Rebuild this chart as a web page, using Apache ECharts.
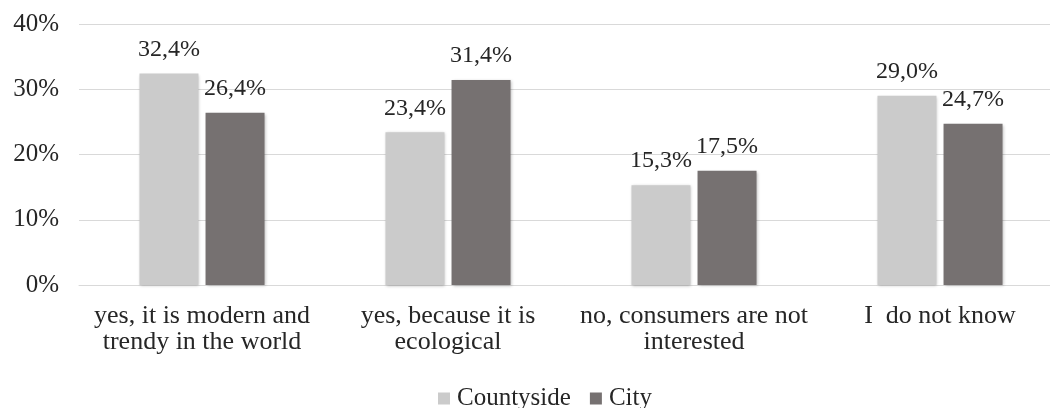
<!DOCTYPE html>
<html>
<head>
<meta charset="utf-8">
<script src="https://cdn.jsdelivr.net/npm/echarts@6/dist/echarts.min.js"></script>
<style>
  html, body { margin: 0; padding: 0; background: #ffffff; }
  #chart { width: 1050px; height: 408px; }
</style>
</head>
<body>
<div id="chart"></div>
<script>
// Survey answers by place of residence (share of respondents, %)
const categories = [
  'yes, it is modern and\ntrendy in the world',
  'yes, because it is\necological',
  'no, consumers are not\ninterested',
  'I  do not know'
];
const countyside = [32.4, 23.4, 15.3, 29.0];
const city = [26.4, 31.4, 17.5, 24.7];
const seriesNames = ['Countyside', 'City'];
const yTicks = { min: 0, max: 40, interval: 10 };

const FONT = '"Liberation Serif", "Times New Roman", serif';
const TEXT = '#262626';
const fmt = v => v.toFixed(1).replace('.', ',') + '%';

const chart = echarts.init(document.getElementById('chart'), null, { renderer: 'canvas' });

const labelStyle = {
  show: true,
  position: 'top',
  distance: 12,
  fontFamily: FONT,
  fontSize: 24,
  color: TEXT,
  formatter: p => fmt(p.value)
};

const barShadow = {
  shadowColor: 'rgba(0,0,0,0.25)',
  shadowBlur: 3,
  shadowOffsetX: 1,
  shadowOffsetY: 1
};

chart.setOption({
  animation: false,
  textStyle: { fontFamily: FONT },
  // plot area runs past the right edge of the canvas, so the gridlines reach it
  grid: {
    left: 79, width: 984, top: 24, bottom: 123,
    containLabel: false,
    outerBoundsMode: 'none'
  },
  legend: {
    top: 386,
    left: 438,
    padding: 0,
    itemWidth: 12,
    itemHeight: 12,
    itemGap: 19,
    icon: 'rect',
    textStyle: { fontFamily: FONT, fontSize: 25, color: TEXT, padding: [0, 0, 0, 2] },
    data: seriesNames
  },
  xAxis: {
    type: 'category',
    data: categories,
    axisLine: { show: true, lineStyle: { color: '#d9d9d9', width: 1 } },
    axisTick: { show: false },
    axisLabel: {
      fontFamily: FONT,
      fontSize: 26,
      color: TEXT,
      margin: 18,
      lineHeight: 26,
      interval: 0
    }
  },
  yAxis: {
    type: 'value',
    min: yTicks.min,
    max: yTicks.max,
    interval: yTicks.interval,
    axisLine: { show: false },
    axisTick: { show: false },
    splitLine: { lineStyle: { color: '#d9d9d9', width: 1 } },
    axisLabel: {
      fontFamily: FONT,
      fontSize: 25,
      color: TEXT,
      margin: 20,
      formatter: v => v + '%'
    }
  },
  series: [
    {
      name: seriesNames[0],
      type: 'bar',
      data: countyside,
      barWidth: 59,
      barGap: '12%',
      itemStyle: Object.assign({ color: '#cbcbcb' }, barShadow),
      label: labelStyle
    },
    {
      name: seriesNames[1],
      type: 'bar',
      data: city,
      barWidth: 59,
      barGap: '12%',
      itemStyle: Object.assign({ color: '#767171' }, barShadow),
      label: labelStyle
    }
  ]
});
</script>
</body>
</html>
